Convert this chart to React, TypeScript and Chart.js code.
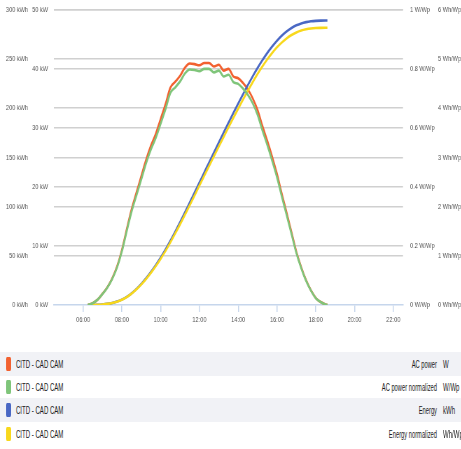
import React, { useEffect, useRef } from "react";
import { Chart, registerables } from "chart.js";

Chart.register(...registerables);

// time of day in hours
const times = [
  6.25, 6.5, 6.75, 7.0, 7.25, 7.5, 7.75, 8.0, 8.25, 8.5, 8.75, 9.0, 9.25, 9.5, 9.75,
  10.0, 10.25, 10.5, 10.75, 11.0, 11.25, 11.5, 11.75, 12.0, 12.25, 12.5, 12.75, 13.0,
  13.25, 13.5, 13.75, 14.0, 14.25, 14.5, 14.75, 15.0, 15.25, 15.5, 15.75, 16.0, 16.25,
  16.5, 16.75, 17.0, 17.25, 17.5, 17.75, 18.0, 18.25, 18.5, 18.6,
];

// AC power (kW)
const acPower = [
  0, 0.3, 0.9, 1.9, 3.0, 4.5, 6.5, 9.3, 12.8, 16.2, 19.0, 21.8, 24.6, 27.0, 29.0,
  31.5, 34.0, 36.8, 37.8, 38.8, 40.2, 40.9, 40.8, 40.6, 41.0, 41.0, 40.4, 40.7,
  39.7, 40.0, 38.7, 38.4, 37.6, 36.5, 35.0, 33.0, 30.3, 27.8, 25.1, 22.2, 18.8,
  15.6, 12.3, 9.0, 6.4, 4.2, 2.5, 1.2, 0.5, 0.1, 0,
];

// AC power normalized (W/Wp)
const acPowerNorm = [
  0, 0.006, 0.018, 0.037, 0.059, 0.088, 0.127, 0.181, 0.25, 0.316, 0.371, 0.425, 0.48, 0.527, 0.566,
  0.614, 0.663, 0.718, 0.737, 0.757, 0.784, 0.798, 0.796, 0.792, 0.8, 0.8, 0.788, 0.794,
  0.774, 0.78, 0.755, 0.749, 0.733, 0.712, 0.683, 0.644, 0.591, 0.542, 0.489, 0.433, 0.367,
  0.304, 0.24, 0.176, 0.125, 0.082, 0.049, 0.023, 0.01, 0.002, 0,
];

// Energy (kWh)
const energy = [
  0, 0.04, 0.19, 0.54, 1.15, 2.09, 3.46, 5.45, 8.22, 11.84, 16.24, 21.34, 27.14, 33.59, 40.59,
  48.15, 56.34, 65.19, 74.51, 84.09, 93.96, 104.1, 114.31, 124.49, 134.69, 144.94, 155.11, 165.25,
  175.3, 185.26, 195.1, 204.74, 214.24, 223.5, 232.44, 240.94, 248.85, 256.11, 262.72, 268.64, 273.76,
  278.06, 281.55, 284.21, 286.14, 287.46, 288.3, 288.76, 288.97, 289.05, 289.05,
];

// Energy normalized (Wh/Wp)
const energyNorm = [
  0, 0.001, 0.004, 0.011, 0.022, 0.041, 0.067, 0.106, 0.16, 0.231, 0.317, 0.416, 0.529, 0.655, 0.791,
  0.939, 1.098, 1.271, 1.452, 1.639, 1.832, 2.029, 2.228, 2.427, 2.626, 2.825, 3.024, 3.221,
  3.417, 3.611, 3.803, 3.991, 4.176, 4.357, 4.531, 4.697, 4.851, 4.992, 5.121, 5.237, 5.336,
  5.42, 5.488, 5.54, 5.578, 5.603, 5.62, 5.629, 5.633, 5.635, 5.635,
];

const xTicks = [6, 8, 10, 12, 14, 16, 18, 20, 22];
const xTickLabels = ["06:00", "08:00", "10:00", "12:00", "14:00", "16:00", "18:00", "20:00", "22:00"];
const kwhTicks = [0, 50, 100, 150, 200, 250, 300];
const kwTicks = [0, 10, 20, 30, 40, 50];
const wwpTicks = [0, 0.2, 0.4, 0.6, 0.8, 1];
const whwpTicks = [0, 1, 2, 3, 4, 5, 6];

const seriesNames = ["CITD - CAD CAM", "CITD - CAD CAM", "CITD - CAD CAM", "CITD - CAD CAM"];
const seriesLabels = ["AC power", "AC power normalized", "Energy", "Energy normalized"];
const seriesUnits = ["W", "W/Wp", "kWh", "Wh/Wp"];
const seriesColors = ["#f26130", "#7fc57a", "#4a68c4", "#f8d81c"];

const FONT = "'Liberation Sans', Arial, sans-serif";
const GRID = "#d0d0d0";
const AXIS_BLUE = "#c6d6ec";

// horizontal squeeze of the chart picture and of the legend
const CHART_SX = 0.7;
const LEGEND_SX = 0.55;
const W = 461;
const CW = Math.round(W / CHART_SX);
const LW = W / LEGEND_SX;
const CANVAS_TOP = -5;
const CANVAS_H = 350;

function fmt(v: number) {
  return String(Math.round(v * 10) / 10);
}

export default function App() {
  const ref = useRef<HTMLCanvasElement | null>(null);

  useEffect(() => {
    if (!ref.current) return;
    const pts = (arr: number[]) => times.map((t, i) => ({ x: t, y: arr[i] }));
    const fixTicks = (vals: number[]) => (scale: any) => {
      scale.ticks = vals.map((v) => ({ value: v }));
    };
    const tickFont = { family: FONT, size: 8 };
    const k = 1 / CHART_SX;
    const ds = (label: string, data: any, axis: string, color: string, order: number) => ({
      label,
      data,
      yAxisID: axis,
      borderColor: color,
      borderWidth: 2.6,
      pointRadius: 0,
      cubicInterpolationMode: "monotone",
      order,
    });
    const chart = new Chart(ref.current, {
      type: "line",
      data: {
        datasets: [
          ds(seriesLabels[0], pts(acPower), "kw", seriesColors[0], 3),
          ds(seriesLabels[1], pts(acPowerNorm), "wwp", seriesColors[1], 0),
          ds(seriesLabels[2], pts(energy), "kwh", seriesColors[2], 2),
          ds(seriesLabels[3], pts(energyNorm), "whwp", seriesColors[3], 1),
        ],
      },
      options: {
        responsive: false,
        animation: false,
        layout: { padding: { top: 5, bottom: 0, left: 0, right: 0 } },
        plugins: { legend: { display: false }, tooltip: { enabled: false } },
        scales: {
          x: {
            type: "linear",
            min: 4.5,
            max: 22.5,
            afterBuildTicks: fixTicks(xTicks),
            afterFit: (s: any) => { s.height = 40; },
            grid: { drawOnChartArea: false, drawTicks: true, tickLength: 7, color: AXIS_BLUE, lineWidth: 1.5 },
            border: { display: true, color: AXIS_BLUE, width: 1.5 },
            ticks: {
              font: tickFont,
              color: "#555",
              padding: 3,
              maxRotation: 0,
              autoSkip: false,
              callback: (v: any) => xTickLabels[xTicks.indexOf(Number(v))] ?? "",
            },
          },
          kwh: {
            position: "left",
            weight: 1,
            min: 0,
            max: 300,
            afterBuildTicks: fixTicks(kwhTicks),
            afterFit: (s: any) => { s.width = 30 * k; },
            grid: { drawTicks: false, color: (c: any) => (c.tick && c.tick.value === 0 ? "rgba(0,0,0,0)" : GRID), lineWidth: 1.5 },
            border: { display: false },
            ticks: { font: tickFont, color: "#555", padding: 2 * k, callback: (v: any) => `${v} kWh` },
          },
          kw: {
            position: "left",
            weight: 0,
            min: 0,
            max: 50,
            afterBuildTicks: fixTicks(kwTicks),
            afterFit: (s: any) => { s.width = 24 * k; },
            grid: { drawTicks: false, color: (c: any) => (c.tick && c.tick.value === 0 ? "rgba(0,0,0,0)" : GRID), lineWidth: 1.5 },
            border: { display: false },
            ticks: { font: tickFont, color: "#555", padding: 6 * k, callback: (v: any) => `${v} kW` },
          },
          wwp: {
            position: "right",
            weight: 0,
            min: 0,
            max: 1,
            afterBuildTicks: fixTicks(wwpTicks),
            afterFit: (s: any) => { s.width = 33 * k; },
            grid: { display: false, drawTicks: false },
            border: { display: false },
            ticks: { font: tickFont, color: "#555", padding: 7 * k, callback: (v: any) => `${fmt(Number(v))} W/Wp` },
          },
          whwp: {
            position: "right",
            weight: 1,
            min: 0,
            max: 6,
            afterBuildTicks: fixTicks(whwpTicks),
            afterFit: (s: any) => { s.width = CW - 403 * k - 33 * k; },
            grid: { display: false, drawTicks: false },
            border: { display: false },
            ticks: { font: tickFont, color: "#555", padding: 2 * k, callback: (v: any) => `${v} Wh/Wp` },
          },
        },
      } as any,
    });
    return () => chart.destroy();
  }, []);

  const rowTop = [0, 24, 46, 70];
  const rowH = [24, 22, 24, 24];
  return (
    <div style={{ position: "absolute", left: 0, top: 0, width: W, height: 449, overflow: "hidden", background: "#fff" }}>
      <div style={{ position: "absolute", left: 0, top: CANVAS_TOP, width: CW, height: CANVAS_H, transform: `scaleX(${CHART_SX})`, transformOrigin: "0 0" }}>
        <canvas ref={ref} width={CW} height={CANVAS_H} style={{ display: "block" }} />
      </div>
      <div style={{ position: "absolute", left: 0, top: 352, width: LW, height: 96, transform: `scaleX(${LEGEND_SX})`, transformOrigin: "0 0" }}>
        {seriesNames.map((name, i) => (
          <div
            key={i}
            style={{
              position: "absolute",
              left: 0,
              top: rowTop[i],
              width: LW,
              height: rowH[i],
              background: i % 2 === 0 ? "#f1f2f6" : "#fff",
              fontFamily: FONT,
              color: "#1a1a1a",
            }}
          >
            <div style={{ position: "absolute", left: 6 / LEGEND_SX, top: (rowH[i] - 14) / 2, width: 5 / LEGEND_SX, height: 14, borderRadius: 2, background: seriesColors[i] }} />
            <div style={{ position: "absolute", left: 16 / LEGEND_SX, top: 0, lineHeight: rowH[i] + "px", fontSize: 11, whiteSpace: "nowrap" }}>{name}</div>
            <div style={{ position: "absolute", right: LW - 437 / LEGEND_SX, top: 0, lineHeight: rowH[i] + "px", fontSize: 10.5, whiteSpace: "nowrap" }}>{seriesLabels[i]}</div>
            <div style={{ position: "absolute", left: 443 / LEGEND_SX, top: 0, lineHeight: rowH[i] + "px", fontSize: 11, whiteSpace: "nowrap" }}>{seriesUnits[i]}</div>
          </div>
        ))}
      </div>
    </div>
  );
}
